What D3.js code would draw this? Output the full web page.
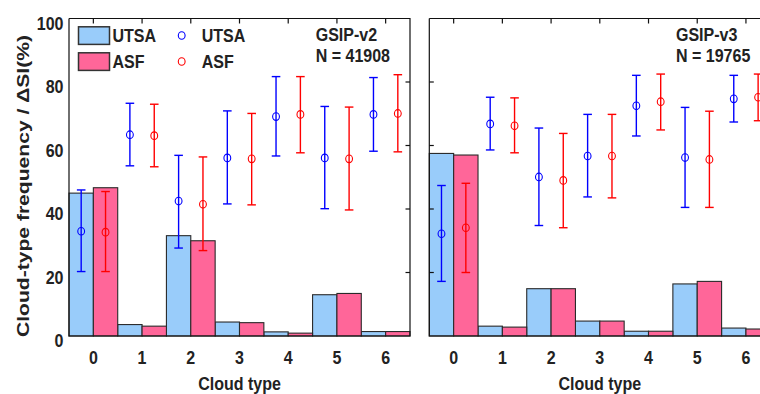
<!DOCTYPE html>
<html><head><meta charset="utf-8">
<script src="https://cdn.jsdelivr.net/npm/d3@7"></script>
<style>
html,body{margin:0;padding:0;background:#fff;overflow:hidden;}
text{font-family:"Liberation Sans",Arial,sans-serif;font-weight:bold;fill:#222;}
</style></head>
<body>
<svg id="chart" width="760" height="394"></svg>
<script>
const categories = [0, 1, 2, 3, 4, 5, 6];
const yTicks = [0, 20, 40, 60, 80, 100];

// GSIP-v2 panel
const v2BarUTSA = [45.0, 3.6, 31.6, 4.4, 1.3, 13.0, 1.4];
const v2BarASF  = [46.7, 3.1, 30.0, 4.2, 0.9, 13.4, 1.4];
const v2DsiUTSA   = [33.0, 63.4, 42.5, 56.1, 69.1, 56.1, 69.8];
const v2DsiUTSAlo = [20.3, 53.6, 27.7, 41.6, 56.7, 40.1, 58.2];
const v2DsiUTSAhi = [46.0, 73.3, 56.9, 70.9, 81.7, 72.3, 81.4];
const v2DsiASF    = [32.7, 63.1, 41.5, 55.8, 69.8, 55.8, 70.1];
const v2DsiASFlo  = [20.3, 53.3, 26.9, 41.3, 57.7, 39.7, 58.0];
const v2DsiASFhi  = [45.5, 73.0, 56.4, 70.1, 81.7, 72.1, 82.3];

// GSIP-v3 panel
const v3BarUTSA = [57.5, 3.1, 14.9, 4.7, 1.5, 16.4, 2.5];
const v3BarASF  = [57.0, 2.8, 14.9, 4.7, 1.5, 17.2, 2.2];
const v3DsiUTSA   = [32.2, 66.8, 50.1, 56.7, 72.5, 56.2, 74.7];
const v3DsiUTSAlo = [17.2, 58.6, 34.8, 43.8, 63.0, 40.5, 67.4];
const v3DsiUTSAhi = [47.4, 75.2, 65.5, 69.8, 82.1, 72.0, 82.1];
const v3DsiASF    = [34.1, 66.2, 49.0, 56.7, 73.8, 55.6, 75.2];
const v3DsiASFlo  = [20.0, 57.7, 34.1, 43.5, 64.9, 40.5, 67.8];
const v3DsiASFhi  = [48.1, 75.0, 63.8, 69.8, 82.5, 70.8, 82.5];

const panels = [
  {title: "GSIP-v2", n: "N = 41908", x0: 69, x1: 410, labels: true,
   barU: v2BarUTSA, barA: v2BarASF,
   dU: v2DsiUTSA, dUlo: v2DsiUTSAlo, dUhi: v2DsiUTSAhi,
   dA: v2DsiASF, dAlo: v2DsiASFlo, dAhi: v2DsiASFhi},
  {title: "GSIP-v3", n: "N = 19765", x0: 429.3, x1: 770.3, labels: false,
   barU: v3BarUTSA, barA: v3BarASF,
   dU: v3DsiUTSA, dUlo: v3DsiUTSAlo, dUhi: v3DsiUTSAhi,
   dA: v3DsiASF, dAlo: v3DsiASFlo, dAhi: v3DsiASFhi}
];

const colU = "#99ccfa", colA = "#ff6699";
const eU = "#0000ff", eA = "#ff0000";
const svg = d3.select("#chart");
const y = d3.scaleLinear().domain([0, 100]).range([336, 18.5]);

function addText(g, x, yy, str, anchor) {
  return g.append("text")
    .attr("transform", `translate(${x},${yy}) scale(0.89,1)`)
    .attr("text-anchor", anchor || "start")
    .attr("font-size", 18).text(str);
}

panels.forEach((p, pi) => {
  const x = d3.scaleLinear().domain([-0.5, 6.5]).range([p.x0, p.x1]);
  const g = svg.append("g");
  const bw = x(0.5) - x(0);
  g.selectAll(".bu").data(categories).enter().append("rect")
    .attr("x", d => x(d - 0.5)).attr("width", bw)
    .attr("y", (d, i) => y(p.barU[i])).attr("height", (d, i) => y(0) - y(p.barU[i]))
    .attr("fill", colU).attr("stroke", "#2a2a2a").attr("stroke-width", 1.1);
  g.selectAll(".ba").data(categories).enter().append("rect")
    .attr("x", d => x(d)).attr("width", bw)
    .attr("y", (d, i) => y(p.barA[i])).attr("height", (d, i) => y(0) - y(p.barA[i]))
    .attr("fill", colA).attr("stroke", "#2a2a2a").attr("stroke-width", 1.1);

  const series = [
    {off: -0.25, c: eU, v: p.dU, lo: p.dUlo, hi: p.dUhi},
    {off: 0.25, c: eA, v: p.dA, lo: p.dAlo, hi: p.dAhi}
  ];
  series.forEach(s => {
    categories.forEach((d, i) => {
      const cx = x(d + s.off);
      g.append("line").attr("x1", cx).attr("x2", cx)
        .attr("y1", y(s.lo[i])).attr("y2", y(s.hi[i]))
        .attr("stroke", s.c).attr("stroke-width", 1.4);
      [s.lo[i], s.hi[i]].forEach(v => {
        g.append("line").attr("x1", cx - 4.3).attr("x2", cx + 4.3)
          .attr("y1", y(v)).attr("y2", y(v))
          .attr("stroke", s.c).attr("stroke-width", 1.4);
      });
      g.append("ellipse").attr("cx", cx).attr("cy", y(s.v[i]))
        .attr("rx", 3.4).attr("ry", 3.8)
        .attr("fill", "none").attr("stroke", s.c).attr("stroke-width", 1.1);
    });
  });

  const fr = g.append("g").attr("stroke", "#111").attr("stroke-width", 1.2).attr("fill", "none");
  fr.append("path").attr("d", `M${p.x0},${y(100)}V${y(0)}H${p.x1}V${y(100)}H${p.x0}`);
  categories.forEach(d => {
    fr.append("line").attr("x1", x(d)).attr("x2", x(d))
      .attr("y1", y(100)).attr("y2", y(100) + 5);
  });
  yTicks.slice(1, -1).forEach(t => {
    if (!p.labels) {
      fr.append("line").attr("x1", p.x0).attr("x2", p.x0 + 4.5).attr("y1", y(t)).attr("y2", y(t));
    }
    fr.append("line").attr("x1", p.x1).attr("x2", p.x1 - 4.5).attr("y1", y(t)).attr("y2", y(t));
  });

  categories.forEach(d => addText(g, x(d), 363.5, d, "middle"));
  addText(g, (p.x0 + p.x1) / 2, 389.5, "Cloud type", "middle");

  if (p.labels) {
    yTicks.forEach(t => addText(g, 63.5, y(t) + 11, t, "end"));
  }

  addText(g, pi === 0 ? 315.7 : 676, 41, p.title);
  addText(g, pi === 0 ? 315.7 : 676, 62, p.n);
});

svg.append("text")
  .attr("transform", "translate(29,186) rotate(-90)")
  .attr("text-anchor", "middle").attr("font-size", 16.5)
  .attr("textLength", 302).attr("lengthAdjust", "spacingAndGlyphs")
  .text("Cloud-type frequency / ΔSI(%)");

const leg = svg.append("g");
const legItems = [{name: "UTSA", fill: colU, c: eU, cy: 35.5}, {name: "ASF", fill: colA, c: eA, cy: 61.5}];
legItems.forEach(it => {
  leg.append("rect").attr("x", 78.5).attr("y", it.cy - 8.7).attr("width", 31).attr("height", 17.6)
    .attr("fill", it.fill).attr("stroke", "#333").attr("stroke-width", 1.5);
  addText(leg, 112.5, it.cy + 6.5, it.name);
  leg.append("ellipse").attr("cx", 181.7).attr("cy", it.cy).attr("rx", 3.4).attr("ry", 3.8)
    .attr("fill", "none").attr("stroke", it.c).attr("stroke-width", 1.1);
  addText(leg, 201.7, it.cy + 6.5, it.name);
});
</script>
</body></html>
